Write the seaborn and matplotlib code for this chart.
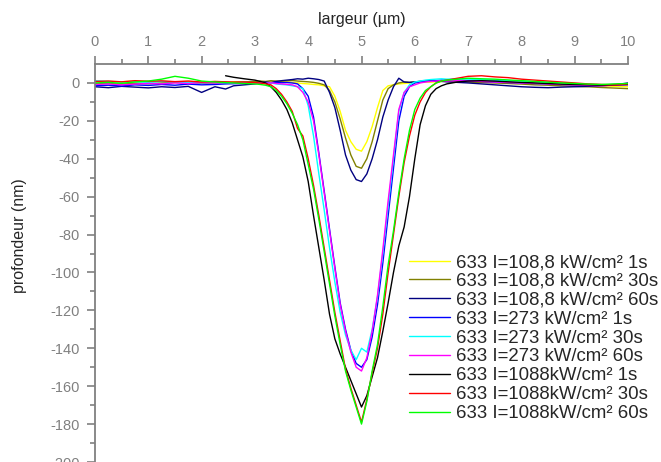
import numpy as np
import pandas as pd
import seaborn as sns
from matplotlib import pyplot as plt

# abscissa (µm), shared by all profiles
x_left = [0.0, 0.25, 0.5, 0.75, 1.0, 1.25, 1.5, 1.75, 2.0, 2.25, 2.45, 2.6, 2.8, 3.0]
x_mid = [3.1, 3.2, 3.3, 3.4, 3.5, 3.6, 3.7, 3.8, 3.9, 4.0,
         4.1, 4.2, 4.3, 4.4, 4.5, 4.6, 4.7, 4.8, 4.9, 5.0,
         5.1, 5.2, 5.3, 5.4, 5.5, 5.6, 5.7, 5.8, 5.9, 6.0,
         6.1, 6.2, 6.3, 6.4, 6.5, 6.6]
x_right = [6.8, 7.0, 7.25, 7.5, 7.75, 8.0, 8.25, 8.5, 8.75, 9.0, 9.25, 9.5, 9.75, 10.0]

# depth profiles (nm)
p108_1s = ([0.5, 0.8, 0.6, 1.0, 0.7, 0.9, 0.6, 0.8, 0.5, 0.7, 0.4, 0.6, 0.5, 0.4]
           + [0.5, 0.3, 0.6, 0.4, 0.2, 0.5, 0.3, 0.0, -0.3, -0.5,
              -0.8, -1.0, -1.5, -2.0, -7, -15, -25, -31, -35, -36,
              -31, -23, -13, -4, -1.5, -1.0, -0.5, -0.3, 0.0, 0.2,
              0.3, 0.5, 0.4, 0.6, 0.8, 1.0]
           + [1.0, 0.8, 0.6, 0.4, 0.2, 0.0, -0.2, -0.5, -0.8, -1.0, -1.3, -1.5, -1.8, -2.0])
p108_30s = ([-0.5, -0.3, -0.6, -0.2, -0.4, 0.0, 0.3, 0.1, -0.2, 0.0, 0.2, 0.4, 0.6, 0.8]
            + [1.0, 0.8, 1.2, 1.0, 0.9, 1.1, 1.3, 1.0, 0.8, 0.6,
               0.3, -0.2, -1.0, -4, -10, -19, -29, -38, -44, -45,
               -40, -31, -20, -9, -3, -1.0, 0.0, 0.5, 0.3, 0.6,
               0.8, 1.0, 0.9, 1.2, 1.0, 0.8]
            + [0.6, 0.4, 0.2, 0.0, -0.3, -0.6, -1.0, -1.2, -1.5, -1.8, -2.0, -2.4, -2.7, -3.0])
p108_60s = ([-2.0, -2.5, -1.8, -2.2, -2.6, -2.0, -2.4, -1.8, -5.0, -2.0, -3.2, -1.5, -1.0, -0.5]
            + [0.0, 0.5, 0.2, 0.8, 1.2, 1.5, 1.8, 2.2, 2.0, 2.5,
               2.2, 1.8, 1.0, -5, -13, -25, -38, -46, -51, -52,
               -48, -40, -30, -18, -9, -2, 2.5, 0.5, 0.3, 0.5,
               0.8, 1.0, 1.2, 1.0, 0.8, 0.6]
            + [0.3, 0.0, -0.5, -1.0, -1.5, -2.0, -2.3, -2.5, -2.2, -2.0, -1.8, -1.5, -1.0, 0.0])
p273_1s = ([-1.5, -1.2, -1.6, -1.0, -1.3, -0.8, -1.2, -0.6, -1.0, -0.8, -0.5, -0.4, -0.2, 0.0]
           + [0.0, 0.2, 0.0, 0.3, 0.1, 0.2, 0.0, -0.5, -3, -7,
              -18, -37, -57, -77, -97, -116, -130, -141, -148, -150,
              -146, -134, -117, -95, -70, -45, -20, -7, -2, 0.0,
              0.5, 0.8, 1.0, 1.2, 1.5, 1.6]
           + [1.5, 1.2, 0.8, 0.5, 0.2, 0.0, -0.3, -0.5, -0.8, -1.0, -1.2, -1.0, -0.8, -0.5])
p273_30s = ([1.2, 0.8, 0.5, 0.6, 0.3, 0.8, 0.5, 0.2, 0.0, 0.3, 0.2, 0.0, 0.3, 0.1]
            + [0.0, -0.3, 0.0, -0.5, -0.8, -1.0, -1.5, -2, -3, -12,
               -28, -48, -67, -87, -105, -121, -133, -141, -146, -140,
               -142, -130, -113, -90, -65, -40, -15, -5, -1, 0.5,
               1.0, 1.5, 1.8, 2.0, 2.2, 2.0]
            + [2.2, 2.0, 1.8, 1.5, 1.2, 1.0, 0.6, 0.2, 0.0, -0.4, -0.8, -1.0, -1.2, -1.0])
p273_60s = ([-0.8, -0.5, -1.0, -0.6, -0.2, -0.5, 0.0, -0.3, 0.2, 0.0, 0.3, 0.1, 0.0, -0.2]
            + [0.0, -0.2, 0.1, -0.3, -0.5, -0.8, -1.0, -2, -5, -10,
               -20, -38, -58, -78, -98, -117, -131, -142, -150, -152,
               -145, -131, -112, -88, -62, -38, -14, -5, -2, -1,
               0.0, 0.5, 0.8, 1.0, 1.2, 1.0]
            + [1.2, 1.0, 0.8, 0.5, 0.3, 0.0, -0.2, -0.5, -0.8, -1.0, -1.3, -1.5, -1.2, -1.0])
p1088_1s = ([np.nan] * 10 + [3.8, 3.0, 2.2, 1.5]
            + [0.8, 0.0, -2, -5, -9, -14, -21, -30, -39, -52,
               -70, -87, -104, -122, -135, -143, -150, -157, -164, -171,
               -165, -155, -145, -131, -116, -100, -86, -76, -60, -40,
               -22, -12, -6, -3, -1.5, -0.5]
            + [0.5, 1.0, 1.2, 1.0, 0.6, 0.3, 0.0, -0.3, -0.6, -0.8, -1.0, -1.2, -1.0, -0.8])
p1088_30s = ([0.8, 1.0, 0.6, 1.2, 0.9, 1.1, 0.7, 1.0, 0.5, 0.8, 0.6, 0.4, 0.5, 0.2]
             + [0.0, -0.5, -1, -3, -6, -10, -15, -24, -28, -40,
                -54, -70, -87, -104, -121, -136, -151, -161, -170, -179,
                -167, -153, -140, -122, -100, -80, -60, -42, -28, -17,
                -10, -5, -2, 0.0, 1.0, 1.5]
             + [2.5, 3.5, 3.8, 3.2, 2.8, 2.0, 1.5, 1.0, 0.5, 0.0, -0.5, -0.8, -1.0, -0.5])
p1088_60s = ([0.0, 0.3, -0.2, 0.5, 1.0, 2.0, 3.5, 2.5, 1.0, 0.5, 0.2, 0.0, -0.3, -0.5]
             + [-0.8, -1.2, -2, -4, -7, -11, -16, -22, -30, -43,
                -56, -72, -89, -106, -123, -138, -152, -162, -171, -180,
                -168, -152, -138, -118, -96, -78, -58, -40, -25, -14,
                -8, -4, -2, 0.0, 1.0, 1.5]
             + [2.0, 2.5, 2.2, 2.0, 1.6, 1.2, 0.8, 0.4, 0.0, -0.3, -0.6, -0.8, -0.5, -0.3])

labels = ["633 I=108,8 kW/cm² 1s", "633 I=108,8 kW/cm² 30s", "633 I=108,8 kW/cm² 60s",
          "633 I=273 kW/cm² 1s", "633 I=273 kW/cm² 30s", "633 I=273 kW/cm² 60s",
          "633 I=1088kW/cm² 1s", "633 I=1088kW/cm² 30s", "633 I=1088kW/cm² 60s"]
profiles = [p108_1s, p108_30s, p108_60s, p273_1s, p273_30s, p273_60s,
            p1088_1s, p1088_30s, p1088_60s]
colors = ["#FFFF00", "#808000", "#000080", "#0000FF", "#00FFFF", "#FF00FF",
          "#000000", "#FF0000", "#00FF00"]

x = x_left + x_mid + x_right

sns.set_style("white")
plt.rcParams["font.family"] = ["Liberation Sans", "DejaVu Sans"]
plt.rcParams["axes.unicode_minus"] = False

fig = plt.figure(figsize=(6.61, 4.62), dpi=100)
ax = fig.add_axes([95 / 661, 0.0, 533 / 661, (462 - 64) / 462])

for lab, prof, col in zip(labels, profiles, colors):
    sns.lineplot(x=x, y=prof, ax=ax, color=col, label=lab, lw=1.0, estimator=None, sort=False)

ax.set_xlim(0, 10)
ax.set_ylim(-200, 10)
ax.set_xticks(range(0, 11))
ax.set_xticks(np.arange(0.5, 10, 1.0), minor=True)
ax.set_yticks(range(-200, 1, 20))
ax.set_yticks(range(-190, 10, 20), minor=True)

grey = "#808080"
for side in ["right", "bottom"]:
    ax.spines[side].set_visible(False)
for side in ["left", "top"]:
    ax.spines[side].set_color(grey)
    ax.spines[side].set_linewidth(1.3)

ax.xaxis.tick_top()
ax.xaxis.set_label_position("top")
ax.tick_params(axis="both", which="major", direction="out", length=6, width=1.2,
               color=grey, labelcolor=grey, labelsize=10.5, pad=5)
ax.tick_params(axis="both", which="minor", direction="out", length=3.5, width=1.2, color=grey)
ax.tick_params(axis="y", which="both", left=True, right=False)
ax.tick_params(axis="x", which="both", top=True, bottom=False)

ax.set_xlabel("largeur (µm)", fontsize=11.5, labelpad=8)
ax.set_ylabel("profondeur (nm)", fontsize=11.5)
ax.yaxis.set_label_coords(-0.127, 0.57)

ax.legend(loc="upper left", bbox_to_anchor=(409 / 661, 1 - 254 / 462),
          bbox_transform=fig.transFigure, frameon=False, fontsize=13.4,
          handlelength=2.2, handletextpad=0.35, labelspacing=0.1, borderpad=0,
          borderaxespad=0)

fig.savefig("out.png", dpi=100)
